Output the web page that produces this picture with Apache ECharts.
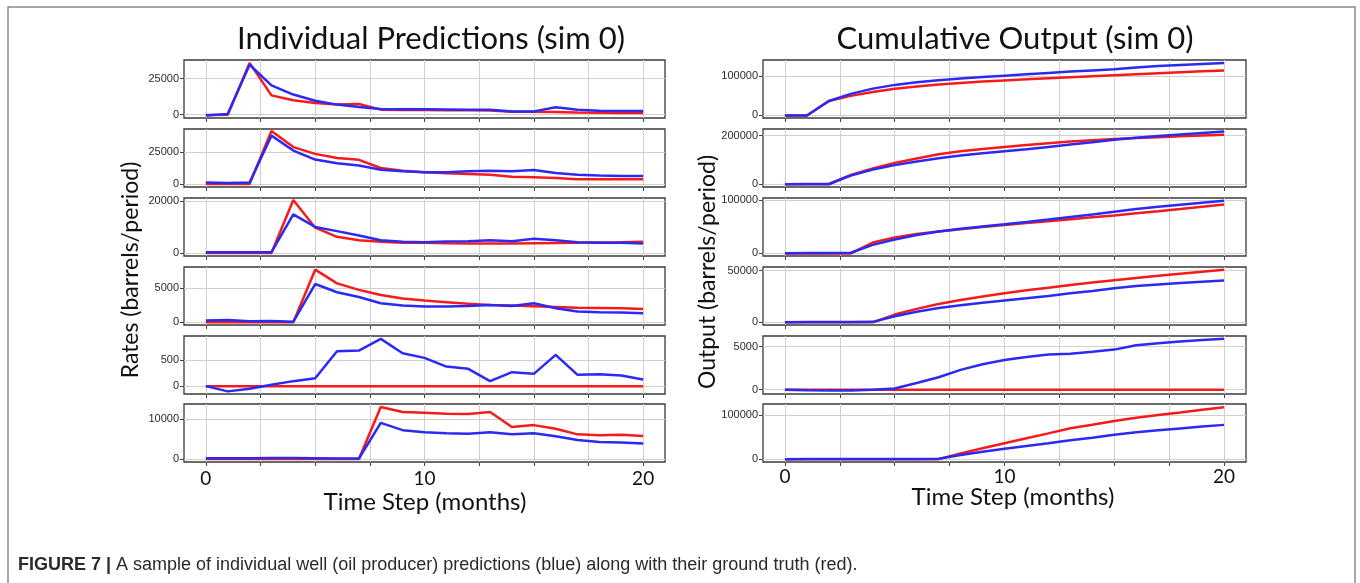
<!DOCTYPE html>
<html>
<head>
<meta charset="utf-8">
<title>Individual well predictions</title>
<script src="https://cdn.jsdelivr.net/npm/echarts@6/dist/echarts.min.js"></script>
<style>
  html, body { margin: 0; padding: 0; background: #fff; }
  #chart { width: 1360px; height: 583px; }
</style>
</head>
<body>
<div id="chart"></div>
<script>
// time steps (months)
var steps = [0, 1, 2, 3, 4, 5, 6, 7, 8, 9, 10, 11, 12, 13, 14, 15, 16, 17, 18, 19, 20];
var gridSteps = [0, 2.5, 5, 7.5, 10, 12.5, 15, 17.5, 20];
var stepLabels = [0, 10, 20];
var rateTicks = [25000, 25000, 20000, 5000, 500, 10000];
var cumTicks = [100000, 200000, 100000, 50000, 5000, 100000];

// rates, ground truth (red) and prediction (blue)
var rateTruth1 = [-300, 0, 36000, 13400, 10000, 8100, 7000, 7400, 3500, 3300, 3200, 3100, 3000, 2900, 2000, 2000, 1800, 1500, 1300, 1200, 1200];
var ratePred1 = [-500, 500, 34700, 20400, 14000, 9700, 7000, 5300, 3900, 3800, 3700, 3600, 3500, 3400, 2300, 2300, 5100, 3500, 2800, 2500, 2500];
var rateTruth2 = [0, 0, 0, 41600, 29000, 23700, 20500, 19000, 12600, 10500, 9200, 8400, 7900, 7400, 5800, 5300, 4700, 3700, 3700, 3700, 3700];
var ratePred2 = [1300, 800, 1300, 38000, 26300, 19200, 16300, 14500, 11300, 10000, 9200, 9200, 10000, 10500, 10000, 11000, 8700, 7400, 6800, 6300, 6300];
var rateTruth3 = [0, 0, 0, 0, 20300, 9700, 6200, 4900, 4300, 3900, 3900, 3700, 3600, 3600, 3600, 3700, 3800, 3900, 4000, 4100, 4300];
var ratePred3 = [300, 300, 300, 300, 14800, 10000, 8400, 6700, 4900, 4300, 4100, 4400, 4500, 4900, 4500, 5500, 4900, 4100, 3900, 3900, 3600];
var rateTruth4 = [0, 0, 0, 0, 0, 7700, 5700, 4750, 4000, 3500, 3200, 2950, 2700, 2550, 2450, 2350, 2250, 2150, 2100, 2050, 1960];
var ratePred4 = [250, 350, 150, 200, 100, 5600, 4400, 3700, 2800, 2450, 2300, 2300, 2400, 2550, 2400, 2800, 2060, 1570, 1470, 1420, 1320];
var rateTruth5 = [0, 0, 0, 0, 0, 0, 0, 0, 0, 0, 0, 0, 0, 0, 0, 0, 0, 0, 0, 0, 0];
var ratePred5 = [0, -100, -50, 25, 95, 150, 665, 677, 900, 627, 538, 373, 330, 95, 266, 234, 595, 215, 228, 203, 127];
var rateTruth6 = [0, 0, 0, 0, 0, 0, 0, 0, 12950, 11700, 11500, 11300, 11200, 11700, 8000, 8450, 7540, 6150, 5900, 6070, 5740];
var ratePred6 = [200, 200, 200, 250, 250, 200, 150, 150, 9000, 7200, 6700, 6400, 6300, 6700, 6150, 6400, 5700, 4750, 4260, 4100, 3900];

// cumulative output, ground truth (red) and prediction (blue)
var cumTruth1 = [0, 0, 37000, 50000, 60000, 68000, 74000, 79000, 83000, 86500, 89500, 92500, 95000, 97500, 100000, 102500, 105000, 107500, 110000, 112500, 115000];
var cumPred1 = [0, 0, 37000, 55000, 68500, 78000, 85000, 90000, 94000, 98000, 101500, 105000, 108500, 112000, 115000, 118000, 122500, 126000, 129000, 131500, 134000];
var cumTruth2 = [0, 0, 0, 38400, 65200, 87000, 106000, 123500, 135100, 144800, 153300, 161100, 168400, 175200, 180500, 185400, 189800, 193200, 196600, 200000, 203400];
var cumPred2 = [0, 500, 1000, 36000, 60500, 78500, 93500, 107000, 117500, 127000, 135500, 144000, 153000, 163000, 172500, 182500, 190500, 197500, 204000, 210000, 216000];
var cumTruth3 = [0, 0, 0, 0, 20300, 30000, 36200, 41100, 45400, 49300, 53200, 56800, 60400, 64000, 67600, 71200, 75000, 78900, 83100, 87400, 91600];
var cumPred3 = [300, 600, 900, 1200, 16000, 26000, 34400, 41100, 46000, 50300, 54400, 58800, 63300, 68200, 72700, 78200, 83100, 87200, 91100, 95000, 98600];
var cumTruth4 = [0, 0, 0, 0, 0, 7500, 13050, 17680, 21570, 24980, 28100, 30970, 33600, 36090, 38470, 40760, 42950, 45050, 47090, 49090, 51000];
var cumPred4 = [0, 200, 300, 400, 450, 5900, 10200, 13800, 16500, 18900, 21100, 23300, 25600, 28100, 30400, 33100, 35100, 36600, 38000, 39400, 40600];
var cumTruth5 = [0, 0, 0, 0, 0, 0, 0, 0, 0, 0, 0, 0, 0, 0, 0, 0, 0, 0, 0, 0, 0];
var cumPred5 = [0, -60, -100, -90, -20, 130, 780, 1450, 2300, 2950, 3450, 3800, 4080, 4180, 4400, 4650, 5150, 5400, 5600, 5780, 5900];
var cumTruth6 = [0, 0, 0, 0, 0, 0, 0, 0, 12950, 24650, 36150, 47450, 58650, 70350, 78350, 86800, 94340, 100490, 106390, 112460, 118200];
var cumPred6 = [0, 100, 200, 300, 400, 500, 600, 700, 9500, 16700, 23400, 29800, 36100, 42800, 48900, 55300, 61000, 65800, 70000, 74100, 78000];

var rateTruth = [rateTruth1, rateTruth2, rateTruth3, rateTruth4, rateTruth5, rateTruth6];
var ratePred = [ratePred1, ratePred2, ratePred3, ratePred4, ratePred5, ratePred6];
var cumTruth = [cumTruth1, cumTruth2, cumTruth3, cumTruth4, cumTruth5, cumTruth6];
var cumPred = [cumPred1, cumPred2, cumPred3, cumPred4, cumPred5, cumPred6];

// layout
var rowTops = [60, 129, 198, 267, 336, 404];
var rowHeight = 58;
var rateLimits = [[-2300, 38000], [-2300, 43200], [-1150, 21100], [-390, 8090], [-150, 955], [-720, 13700]];
var cumLimits = [[-6500, 141500], [-11300, 226700], [-4900, 103800], [-2600, 53600], [-500, 6230], [-6500, 125500]];

var RED = '#f71a1a';
var BLUE = '#2a2af4';
var TICK_FONT = "'Liberation Sans', Arial, sans-serif";
var BIG_FONT = "Lato, 'Open Sans', sans-serif";

var grids = [], xAxes = [], yAxes = [], series = [];

function addPanel(left, width, row, limits, tick, truth, pred, labelMargin) {
  var g = grids.length;
  grids.push({
    left: left, top: rowTops[row], width: width, height: rowHeight,
    show: true, borderColor: '#3a3a3a', borderWidth: 1.3, backgroundColor: '#fff'
  });
  xAxes.push({
    type: 'value', gridIndex: g, min: -1, max: 21, position: 'bottom',
    axisLine: { show: false, onZero: false },
    axisTick: { show: true, customValues: gridSteps, length: 4, lineStyle: { color: '#444', width: 1 } },
    splitLine: { show: true, lineStyle: { color: '#d0d0d0', width: 1 } },
    axisLabel: {
      show: row === 5, customValues: stepLabels,
      fontFamily: BIG_FONT, fontSize: 19, color: '#111', margin: labelMargin
    }
  });
  yAxes.push({
    type: 'value', gridIndex: g, min: limits[0], max: limits[1], position: 'left',
    axisLine: { show: false, onZero: false },
    axisTick: { show: true, customValues: [0, tick], length: 4, lineStyle: { color: '#444', width: 1 } },
    splitLine: { show: true, lineStyle: { color: '#d0d0d0', width: 1 } },
    axisLabel: {
      customValues: [0, tick], fontFamily: TICK_FONT, fontSize: 11, color: '#2a2a2a', margin: 5,
      formatter: function (v) { return String(v); }
    }
  });
  series.push({
    type: 'line', xAxisIndex: g, yAxisIndex: g, silent: true,
    data: steps.map(function (t, k) { return [t, truth[k]]; }),
    showSymbol: false, symbol: 'none',
    lineStyle: { color: RED, width: 2.5 }, itemStyle: { color: RED }, z: 2
  });
  series.push({
    type: 'line', xAxisIndex: g, yAxisIndex: g, silent: true,
    data: steps.map(function (t, k) { return [t, pred[k]]; }),
    showSymbol: false, symbol: 'none',
    lineStyle: { color: BLUE, width: 2.5 }, itemStyle: { color: BLUE }, z: 3
  });
}

for (var i = 0; i < 6; i++) {
  addPanel(184, 481, i, rateLimits[i], rateTicks[i], rateTruth[i], ratePred[i], 7);
  addPanel(763, 483, i, cumLimits[i], cumTicks[i], cumTruth[i], cumPred[i], 5);
}

var chart = echarts.init(document.getElementById('chart'), null, { renderer: 'canvas' });

var option = {
  animation: false,
  backgroundColor: '#fff',
  grid: grids,
  xAxis: xAxes,
  yAxis: yAxes,
  series: series,
  graphic: [
    // figure frame
    { type: 'rect', shape: { x: 8, y: 7, width: 1347, height: 620 },
      style: { fill: 'none', stroke: '#8a8a8a', lineWidth: 1.5 }, silent: true },
    { type: 'text', x: 431, y: 39,
      style: { text: 'Individual Predictions (sim 0)', font: '31px ' + BIG_FONT, fill: '#111',
        textAlign: 'center', textVerticalAlign: 'middle' } },
    { type: 'text', x: 1015, y: 39,
      style: { text: 'Cumulative Output (sim 0)', font: '31px ' + BIG_FONT, fill: '#111',
        textAlign: 'center', textVerticalAlign: 'middle' } },
    { type: 'text', x: 131, y: 270, rotation: Math.PI / 2,
      style: { text: 'Rates (barrels/period)', font: '23px ' + BIG_FONT, fill: '#111',
        textAlign: 'center', textVerticalAlign: 'middle' } },
    { type: 'text', x: 708, y: 272, rotation: Math.PI / 2,
      style: { text: 'Output (barrels/period)', font: '23px ' + BIG_FONT, fill: '#111',
        textAlign: 'center', textVerticalAlign: 'middle' } },
    { type: 'text', x: 425, y: 502,
      style: { text: 'Time Step (months)', font: '24px ' + BIG_FONT, fill: '#111',
        textAlign: 'center', textVerticalAlign: 'middle' } },
    { type: 'text', x: 1013, y: 497,
      style: { text: 'Time Step (months)', font: '24px ' + BIG_FONT, fill: '#111',
        textAlign: 'center', textVerticalAlign: 'middle' } },
    { type: 'text', x: 18, y: 565,
      style: {
        text: '{b|FIGURE 7 |} A sample of individual well (oil producer) predictions (blue) along with their ground truth (red).',
        font: "18px 'Liberation Sans', Arial, sans-serif", fill: '#2a2a2a',
        textVerticalAlign: 'middle',
        rich: { b: { fontWeight: 'bold', fontFamily: "'Liberation Sans', Arial, sans-serif", fontSize: 18, fill: '#2a2a2a' } }
      } }
  ]
};

chart.setOption(option);
</script>
</body>
</html>
